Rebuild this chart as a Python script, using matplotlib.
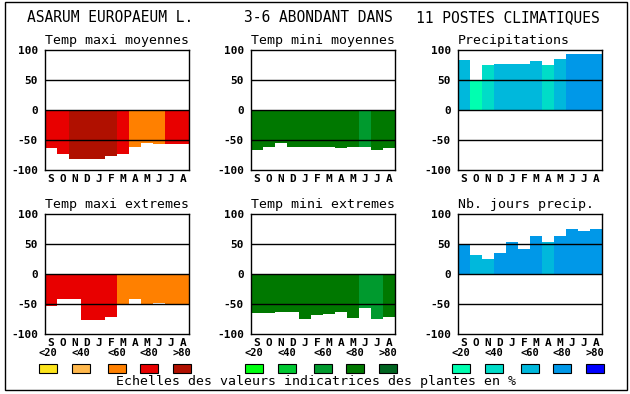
import matplotlib
matplotlib.use('Agg')
import matplotlib.pyplot as plt
from matplotlib.patches import Rectangle

plt.rcParams['font.family'] = 'DejaVu Sans Mono'

months = ['S', 'O', 'N', 'D', 'J', 'F', 'M', 'A', 'M', 'J', 'J', 'A']
class_labels = ['<20', '<40', '<60', '<80', '>80']

# colour scales (class 1..5)
reds = ['#fce41c', '#ffb84c', '#ff8000', '#e80000', '#b01000']
greens = ['#00ff10', '#00c832', '#009a2e', '#007800', '#006420']
blues = ['#00ffb0', '#00dcc8', '#00b8dc', '#0098e8', '#0000ff']

# values (bars drawn from 0) and class index per month
tmax_moy = [-63, -74, -82, -81, -82, -76, -74, -62, -55, -56, -56, -57]
tmax_moy_cls = [4, 4, 5, 5, 5, 5, 4, 3, 3, 3, 4, 4]
tmin_moy = [-67, -62, -55, -61, -62, -61, -62, -64, -62, -61, -66, -64]
tmin_moy_cls = [4, 4, 4, 4, 4, 4, 4, 4, 4, 3, 4, 4]
precip = [84, 50, 75, 77, 76, 77, 82, 75, 85, 94, 94, 94]
precip_cls = [3, 1, 2, 3, 3, 3, 3, 2, 3, 4, 4, 4]
tmax_ext = [-54, -41, -42, -77, -77, -71, -52, -42, -52, -48, -50, -52]
tmax_ext_cls = [4, 4, 4, 4, 4, 4, 3, 3, 3, 3, 3, 3]
tmin_ext = [-65, -65, -64, -63, -75, -68, -66, -64, -74, -57, -75, -72]
tmin_ext_cls = [4, 4, 4, 4, 4, 4, 4, 4, 4, 3, 3, 4]
jours = [50, 32, 25, 35, 54, 42, 64, 54, 64, 75, 72, 75]
jours_cls = [4, 3, 3, 4, 4, 4, 4, 3, 4, 4, 4, 4]

W, H = 630, 394
fig = plt.figure(figsize=(W / 100, H / 100), dpi=100)

# outer frame
fig.add_artist(Rectangle((4.5 / W, 1 - 389.5 / H), 622 / W, 388 / H,
                         transform=fig.transFigure, fill=False,
                         edgecolor='black', linewidth=1.0))

fig.text(27 / W, 1 - 18 / H, 'ASARUM EUROPAEUM L.', fontsize=10.5, va='center')
fig.text(244 / W, 1 - 18 / H, '3-6 ABONDANT DANS', fontsize=10.5, va='center')
fig.text(416 / W, 1 - 18 / H, '11 POSTES CLIMATIQUES', fontsize=10.5, va='center')

col_x = [45, 251, 458]
row_y = [50, 214]
aw, ah = 144, 120

panels = [
    (0, 0, 'Temp maxi moyennes', tmax_moy, tmax_moy_cls, reds),
    (1, 0, 'Temp mini moyennes', tmin_moy, tmin_moy_cls, greens),
    (2, 0, 'Precipitations', precip, precip_cls, blues),
    (0, 1, 'Temp maxi extremes', tmax_ext, tmax_ext_cls, reds),
    (1, 1, 'Temp mini extremes', tmin_ext, tmin_ext_cls, greens),
    (2, 1, 'Nb. jours precip.', jours, jours_cls, blues),
]

for c, r, title, vals, cls, pal in panels:
    x0, y0 = col_x[c], row_y[r]
    ax = fig.add_axes([x0 / W, 1 - (y0 + ah) / H, aw / W, ah / H])
    ax.bar(range(12), vals, width=1.0, color=[pal[k - 1] for k in cls],
           linewidth=0, zorder=1)
    for yv in (50, 0, -50):
        ax.axhline(yv, color='black', linewidth=1.0, zorder=3)
    ax.set_xlim(-0.5, 11.5)
    ax.set_ylim(-100, 100)
    ax.set_yticks([100, 50, 0, -50, -100])
    ax.set_yticklabels(['100', '50', '0', '-50', '-100'], fontweight='bold', fontsize=8)
    ax.set_xticks(range(12))
    ax.set_xticklabels(months, fontweight='bold', fontsize=8)
    ax.tick_params(length=0)
    ax.tick_params(axis='y', pad=5)
    ax.tick_params(axis='x', pad=3)
    for s in ax.spines.values():
        s.set_linewidth(1.0)
        s.set_zorder(4)
    ax.set_title(title, loc='left', fontsize=9.5, pad=4)

# legend swatches
sw_off = [3, 36, 72, 104, 137]
for c, pal in zip(col_x, [reds, greens, blues]):
    for off, col, lab in zip(sw_off, pal, class_labels):
        cx = c + off
        fig.add_artist(Rectangle(((cx - 9) / W, 1 - 373 / H), 18 / W, 9 / H,
                                 transform=fig.transFigure, facecolor=col,
                                 edgecolor='black', linewidth=0.8))
        fig.text(cx / W, 1 - 353 / H, lab, fontsize=7.5, fontweight='bold',
                 ha='center', va='center')

fig.text(316 / W, 1 - 382 / H, 'Echelles des valeurs indicatrices des plantes en %',
         fontsize=9.5, ha='center', va='center')

fig.savefig('out.png', dpi=100)
